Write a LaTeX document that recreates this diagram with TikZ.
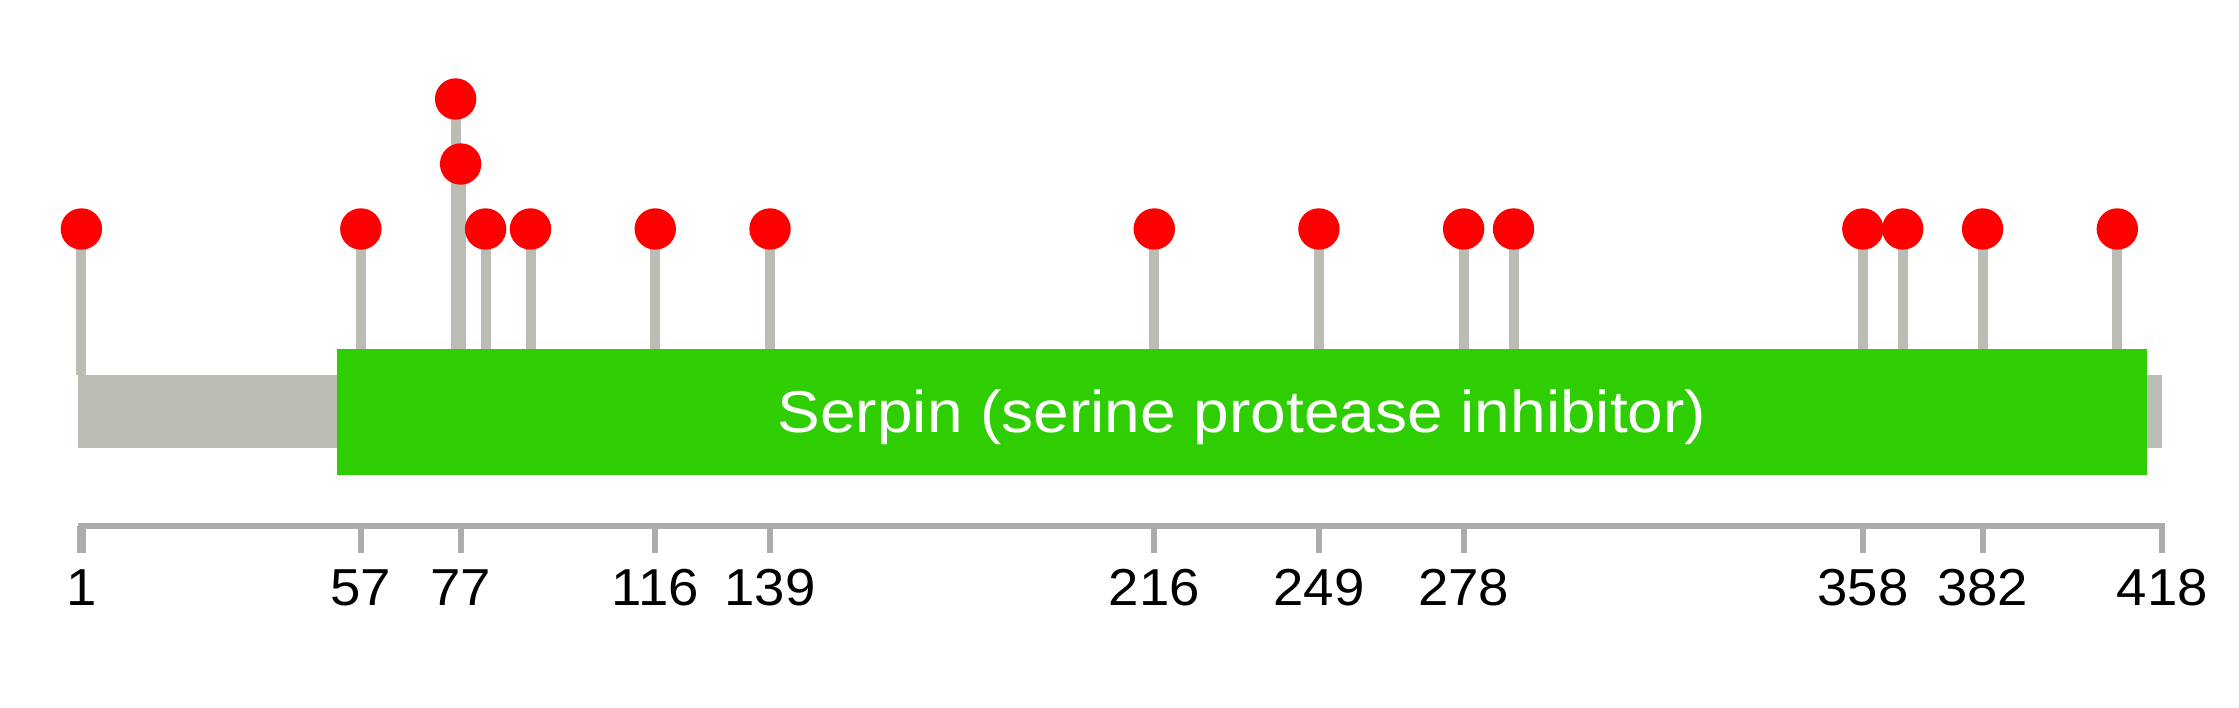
\documentclass[tikz,border=0pt]{standalone}
\usepackage{fontspec}
\setmainfont{Liberation Sans}
\newfontfamily\domfont[FakeStretch=1.085]{Liberation Sans}
\newfontfamily\tickfont[FakeStretch=1.05]{Liberation Sans}
\definecolor{stemgrey}{RGB}{187,189,181}
\definecolor{axisgrey}{RGB}{172,172,172}
\definecolor{domgreen}{RGB}{46,206,2}
\definecolor{lolred}{RGB}{255,0,0}
\begin{document}
\begin{tikzpicture}[x=1pt,y=-1pt,
  stemline/.style={draw=stemgrey, line width=10pt},
  ball/.style={circle, fill=lolred, minimum size=41.4pt, inner sep=0pt},
  axisline/.style={draw=axisgrey, line width=6pt},
  ticklab/.style={anchor=base, inner sep=0pt, font=\tickfont\fontsize{52}{60}\selectfont},
  domlab/.style={anchor=base, inner sep=0pt, text=white, font=\domfont\fontsize{59}{66}\selectfont}]
\useasboundingbox (0,0) rectangle (2239,708);
% backbone
\fill[stemgrey] (78,375) rectangle (2162,448);
% stems
\foreach \p/\h [count=\i] in {1/229,57/229,76/99,77/164,82/229,91/229,116/229,139/229,216/229,249/229,278/229,288/229,358/229,366/229,382/229,409/229} {
  \coordinate (top\i) at ({81.4+4.99*(\p-1)},\h);
  \coordinate (base\i) at ({81.4+4.99*(\p-1)},375);
  \draw[stemline] (top\i) -- (base\i);
}
% domain
\fill[domgreen] (337,349) rectangle (2147,475);
\node[domlab] (domlabel) at (1242,433) {Serpin (serine protease inhibitor)};
% balls
\foreach \i in {1,...,16} {
  \node[ball] (ball\i) at (top\i) {};
}
% axis
\coordinate (axL) at (78,526);
\coordinate (axR) at (2165,526);
\draw[axisline] (axL) -- (axR);
\foreach \p [count=\i] in {1,57,77,116,139,216,249,278,358,382,418} {
  \coordinate (tk\i) at ({81.4+4.99*(\p-1)},526);
  \coordinate (tb\i) at ({81.4+4.99*(\p-1)},553);
  \draw[draw=axisgrey, line width=6pt] (tk\i) -- (tb\i);
  \node[ticklab] (lab\i) at ({81.4+4.99*(\p-1)},605) {\p};
}
\draw[draw=axisgrey, line width=9pt] (tk1) -- (tb1);
\end{tikzpicture}
\end{document}
